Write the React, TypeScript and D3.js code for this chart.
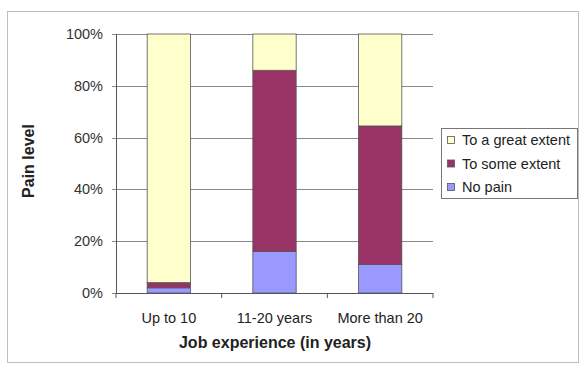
import React from "react";
import * as d3 from "d3";

const categories = ["Up to 10", "11-20 years", "More than 20"];
const seriesNames = ["No pain", "To some extent", "To a great extent"];
const noPain = [2, 16, 11];
const someExtent = [2, 70, 53.5];
const greatExtent = [96, 14, 35.5];
const yTicks = [0, 20, 40, 60, 80, 100];
const colors = ["#9999FF", "#993366", "#FFFFCC"];

export default function App() {
  const W = 580, H = 367;
  const left = 116, right = 433, top = 34, bottom = 293;
  const x = d3.scaleBand().domain(categories).range([left, right]).paddingInner(0.59).paddingOuter(0.295);
  const y = d3.scaleLinear().domain([0, 100]).range([bottom, top]);
  const rows = categories.map((c, i) => ({ cat: c, "No pain": noPain[i], "To some extent": someExtent[i], "To a great extent": greatExtent[i] }));
  const stacked = d3.stack<any>().keys(seriesNames)(rows);
  const font = "'Liberation Sans', Arial, sans-serif";
  const catEdges = [0, 1, 2, 3].map((i) => left + (i * (right - left)) / 3);
  const legendItems = [...seriesNames].reverse();
  return (
    <svg width={W} height={H} style={{ position: "absolute", left: 0, top: 0 }} fontFamily={font}>
      <rect x={0} y={0} width={W} height={H} fill="#fff" />
      <rect x={7.5} y={11.5} width={571} height={351} fill="none" stroke="#bdbdbd" />
      {yTicks.map((t) => (
        <g key={t}>
          <line x1={left - 4} x2={right} y1={Math.round(y(t)) + 0.5} y2={Math.round(y(t)) + 0.5} stroke="#888" />
          <text x={103} y={y(t) + 5} textAnchor="end" fontSize={14.5} fill="#333">{t}%</text>
        </g>
      ))}
      {stacked.map((s, si) => (
        <g key={s.key}>
          {s.map((d, i) => (
            <rect key={i} x={x(categories[i])!} width={x.bandwidth()} y={y(d[1])} height={y(d[0]) - y(d[1])}
              fill={colors[si]} stroke="#555" strokeWidth={0.8} />
          ))}
        </g>
      ))}
      <line x1={left + 0.5} x2={left + 0.5} y1={top} y2={bottom} stroke="#555" />
      <line x1={left} x2={right} y1={bottom + 0.5} y2={bottom + 0.5} stroke="#555" />
      {catEdges.map((e, i) => (
        <line key={i} x1={e} x2={e} y1={bottom} y2={bottom + 5} stroke="#555" />
      ))}
      {categories.map((c) => (
        <text key={c} x={x(c)! + x.bandwidth() / 2} y={323} textAnchor="middle" fontSize={14.5} fill="#222">{c}</text>
      ))}
      <text x={275} y={348} textAnchor="middle" fontSize={16} fontWeight="bold" fill="#222">Job experience (in years)</text>
      <text transform={`translate(34,${161}) rotate(-90)`} textAnchor="middle" fontSize={16} fontWeight="bold" fill="#222">Pain level</text>
      <rect x={441.5} y={128.5} width={136} height={70} fill="#fff" stroke="#777" />
      {legendItems.map((name, i) => {
        const ci = seriesNames.indexOf(name);
        const cy = 140 + i * 23.5;
        return (
          <g key={name}>
            <rect x={447.5} y={cy - 3.5} width={7} height={7} fill={colors[ci]} stroke="#555" strokeWidth={0.8} />
            <text x={462} y={cy + 5} fontSize={14.5} fill="#222">{name}</text>
          </g>
        );
      })}
    </svg>
  );
}
